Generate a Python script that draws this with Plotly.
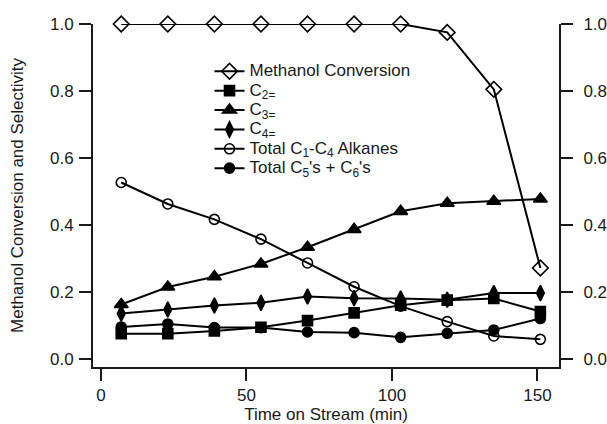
import plotly.graph_objects as go

time_min = [7, 23, 39, 55, 71, 87, 103, 119, 135, 151]
methanol_conv = [1.0, 1.0, 1.0, 1.0, 1.0, 1.0, 1.0, 0.975, 0.805, 0.272]
c2_ene = [0.076, 0.076, 0.084, 0.095, 0.115, 0.138, 0.161, 0.176, 0.181, 0.142]
c3_ene = [0.163, 0.215, 0.246, 0.284, 0.334, 0.387, 0.441, 0.465, 0.471, 0.478]
c4_ene = [0.136, 0.148, 0.160, 0.168, 0.187, 0.182, 0.181, 0.177, 0.197, 0.197]
alkanes_c1_c4 = [0.527, 0.463, 0.417, 0.358, 0.287, 0.216, 0.158, 0.112, 0.069, 0.059]
c5_c6 = [0.096, 0.105, 0.094, 0.094, 0.081, 0.079, 0.065, 0.077, 0.087, 0.121]

series = [
    ("Methanol Conversion", methanol_conv, "diamond-open", 12),
    ("C<sub>2=</sub>", c2_ene, "square", 10),
    ("C<sub>3=</sub>", c3_ene, "triangle-up", 12),
    ("C<sub>4=</sub>", c4_ene, "diamond-tall", 11),
    ("Total C<sub>1</sub>-C<sub>4</sub> Alkanes", alkanes_c1_c4, "circle-open", 10),
    ("Total C<sub>5</sub>'s + C<sub>6</sub>'s", c5_c6, "circle", 10),
]

FONT = "Liberation Sans, Arial, Helvetica, sans-serif"
INK = "#1a1a1a"

fig = go.Figure()
for name, vals, sym, size in series:
    fig.add_trace(go.Scatter(
        x=time_min, y=vals, mode="lines+markers",
        name='<span style="font-size:17px">' + name + '</span>',
        line=dict(color="black", width=2),
        marker=dict(symbol=sym, size=size, color="black",
                    line=dict(color="black", width=1.6)),
        cliponaxis=False,
    ))

# empty trace to carry the right-hand axis
fig.add_trace(go.Scatter(x=[], y=[], yaxis="y2", showlegend=False, hoverinfo="skip"))

yticks = [0.0, 0.2, 0.4, 0.6, 0.8, 1.0]
yrange = [-0.0235, 1.0]
axis_common = dict(
    showline=True, linecolor=INK, linewidth=2,
    ticks="outside", ticklen=12, tickwidth=2, tickcolor=INK,
    showgrid=False, zeroline=False, automargin=False,
    tickfont=dict(family=FONT, size=17, color=INK),
)

fig.update_layout(
    width=607, height=424,
    margin=dict(l=93, r=48, t=24, b=57),
    paper_bgcolor="white", plot_bgcolor="white",
    font=dict(family=FONT, size=17, color=INK),
    xaxis=dict(range=[-2.7, 157.4], tickvals=[0, 50, 100, 150],
               title=dict(text="Time on Stream (min)", standoff=14,
                          font=dict(family=FONT, size=17, color=INK)),
               **axis_common),
    yaxis=dict(range=yrange, tickvals=yticks, tickformat=".1f",
               ticklabelstandoff=2,
               title=dict(text="Methanol Conversion and Selectivity", standoff=22,
                          font=dict(family=FONT, size=17, color=INK)),
               **axis_common),
    yaxis2=dict(range=yrange, tickvals=yticks, tickformat=".1f",
                overlaying="y", side="right", anchor="x",
                ticklabelstandoff=7,
                **axis_common),
    showlegend=True,
    legend=dict(x=0.25, y=0.905, xanchor="left", yanchor="top",
                bgcolor="rgba(0,0,0,0)", borderwidth=0,
                font=dict(family=FONT, size=12.6, color=INK)),
)

fig.write_html("out.html")
